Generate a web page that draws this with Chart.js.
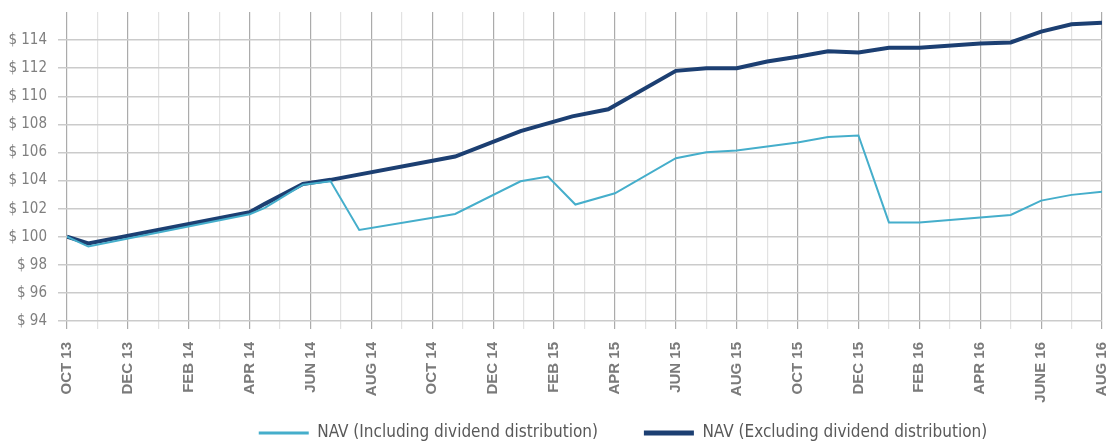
<!DOCTYPE html>
<html>
<head>
<meta charset="utf-8">
<title>NAV chart</title>
<script src="https://cdn.jsdelivr.net/npm/chart.js@4.4.0/dist/chart.umd.min.js"></script>
<style>
  html, body { margin: 0; padding: 0; background: #fff; }
  #wrap { width: 1116px; height: 444px; }
</style>
</head>
<body>
<div id="wrap"><canvas id="navChart"></canvas></div>
<script>
// x = months counted from Oct 2013 (0) to Aug 2016 (34)
const tickLabels = ['OCT 13', 'DEC 13', 'FEB 14', 'APR 14', 'JUN 14', 'AUG 14', 'OCT 14', 'DEC 14', 'FEB 15',
  'APR 15', 'JUN 15', 'AUG 15', 'OCT 15', 'DEC 15', 'FEB 16', 'APR 16', 'JUNE 16', 'AUG 16'];

const seriesNames = ['NAV (Including dividend distribution)', 'NAV (Excluding dividend distribution)'];

const inclMonths = [0, 0.7, 6, 6.5, 7.75, 8.66, 9.6, 12.75, 14.9, 15.8, 16.7, 18, 20, 21, 22, 24, 25, 26, 27, 28, 31, 32, 33, 34];
const inclValues = [100.0, 99.3, 101.6, 102.05, 103.7, 103.95, 100.48, 101.62, 103.95, 104.29, 102.29, 103.09,
  105.59, 106.02, 106.14, 106.71, 107.1, 107.21, 101.02, 101.02, 101.55, 102.57, 102.98, 103.21];

const exclMonths = [0, 0.7, 6, 6.5, 7.75, 8.66, 12.75, 14.9, 16.6, 17.78, 20, 21, 22, 23, 24, 25, 26, 27, 28, 30, 31, 32, 33, 34];
const exclValues = [100.0, 99.52, 101.74, 102.34, 103.76, 104.05, 105.71, 107.52, 108.57, 109.07, 111.81, 112.0,
  112.0, 112.48, 112.81, 113.21, 113.12, 113.45, 113.45, 113.76, 113.83, 114.6, 115.12, 115.24];

const toPoints = (xs, ys) => xs.map((x, i) => ({ x: x, y: ys[i] }));

const narrow = '"Liberation Sans Narrow", "DejaVu Sans Condensed", Roboto, sans-serif';

// move the legend down/right like in the original
const legendShift = {
  id: 'legendShift',
  afterLayout(chart) {
    const lg = chart.legend;
    const lab = lg.options.labels;
    lg.left += 72;
    lg.right += 72;
    lg.top = 433 - lab.padding - lab.font.size / 2;
    lg.bottom = chart.height;
  }
};

new Chart(document.getElementById('navChart'), {
  type: 'line',
  data: {
    datasets: [
      {
        label: seriesNames[0],
        data: toPoints(inclMonths, inclValues),
        borderColor: '#45aecb',
        backgroundColor: '#45aecb',
        borderWidth: 2,
        pointRadius: 0,
        tension: 0
      },
      {
        label: seriesNames[1],
        data: toPoints(exclMonths, exclValues),
        borderColor: '#1c3f72',
        backgroundColor: '#1c3f72',
        borderWidth: 4,
        pointRadius: 0,
        tension: 0
      }
    ]
  },
  options: {
    responsive: true,
    maintainAspectRatio: false,
    animation: false,
    layout: { padding: { top: 12, right: 14, left: 0, bottom: 0 } },
    plugins: {
      tooltip: { enabled: false },
      legend: {
        position: 'bottom',
        maxHeight: 20,
        labels: {
          usePointStyle: true,
          pointStyle: 'line',
          pointStyleWidth: 50,
          padding: 46,
          color: '#595959',
          font: { family: narrow, size: 17 },
          generateLabels: (chart) => Chart.defaults.plugins.legend.labels.generateLabels(chart)
            .map((item, i) => ({ ...item, lineWidth: i === 0 ? 3 : 5 }))
        }
      }
    },
    scales: {
      x: {
        type: 'linear',
        min: 0,
        max: 34,
        afterFit: (scale) => {
          scale.height = Math.max(0, scale.chart.height - scale.chart.legend.height - 321);
          scale.paddingLeft = 0;
          scale.paddingRight = 0;
        },
        border: { display: false },
        grid: {
          color: (ctx) => (ctx.tick && ctx.tick.value % 2 === 0) ? '#ababab' : '#e2e2e2',
          lineWidth: 1.2,
          tickLength: 8
        },
        ticks: {
          stepSize: 1,
          autoSkip: false,
          minRotation: 90,
          maxRotation: 90,
          padding: 13,
          color: '#7a7a7a',
          font: { family: '"Liberation Sans", Arial, sans-serif', size: 15, weight: 'bold' },
          callback: (value) => value % 2 === 0 ? tickLabels[value / 2] : ''
        }
      },
      y: {
        min: 94,
        max: 116,
        afterFit: (scale) => {
          scale.width = 67;
          scale.paddingTop = 0;
          scale.paddingBottom = 0;
        },
        border: { display: false },
        grid: {
          color: (ctx) => (ctx.tick && ctx.tick.value === 116) ? 'rgba(0,0,0,0)' : '#cbcbcb',
          lineWidth: 1.5,
          tickLength: 9
        },
        ticks: {
          stepSize: 2,
          padding: 11,
          color: '#7f7f7f',
          font: { family: narrow, size: 15 },
          callback: (value) => value === 116 ? '' : '$ ' + value
        }
      }
    }
  },
  plugins: [legendShift]
});
</script>
</body>
</html>
